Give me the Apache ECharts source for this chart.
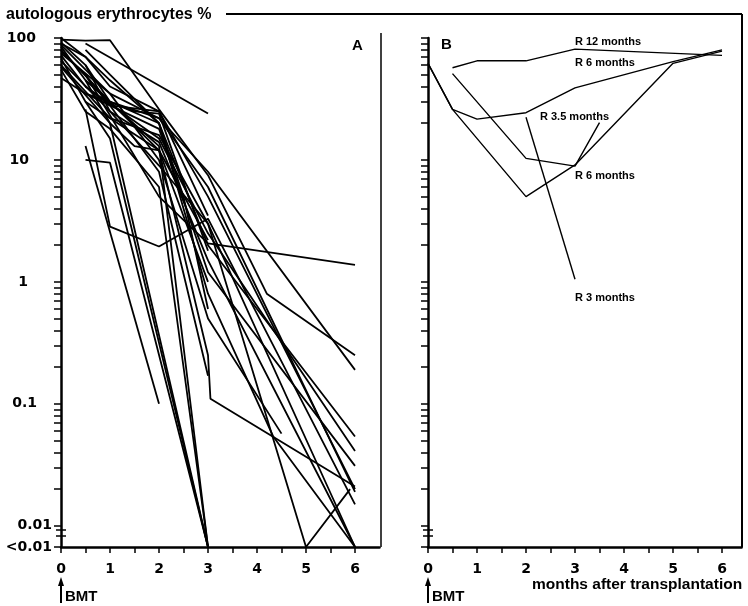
<!DOCTYPE html>
<html>
<head>
<meta charset="utf-8">
<script src="https://cdn.jsdelivr.net/npm/echarts@6/dist/echarts.min.js"></script>
<style>html,body{margin:0;padding:0;background:#fff}#main{width:748px;height:606px}</style>
</head>
<body>
<div id="main"></div>
<script>
// value used for "<0.01" (bottom of the y axis)
var LT = 0.0067;

// panel A: individual patients, [month, % autologous erythrocytes]
var a1 = [[0,97],[0.5,95],[1,96],[2,26],[3,7.5],[4.2,0.8],[6,0.25]];
var a2 = [[0.5,90],[3,24]];
var a3 = [[0,88],[0.5,55],[1,35],[2,22],[3,8],[6,0.19]];
var a4 = [[0,80],[1,30],[2,12],[3,0.25],[3.05,0.11],[6,0.021]];
var a5 = [[0,72],[0.5,40],[2,15],[3,2.5],[6,0.041]];
var a6 = [[0,65],[1,25],[2,9],[3,3],[5,LT],[5.9,0.02]];
var a7 = [[0,58],[1,20],[3,LT]];
var a8 = [[0,47],[0.5,35],[2,18],[3,1.2],[6,0.031]];
var a9 = [[0.5,13],[2,0.1]];
var a10 = [[0.5,10],[1,9.5],[3,LT]];
var a11 = [[0.5,30],[1,15],[3,LT]];
var a12 = [[0.5,26],[1,2.84],[2,1.95],[3,3.3],[6,0.015]];
var a13 = [[0.5,50],[2,5],[3,2.07],[6,1.38]];
var a14 = [[0,90],[0.5,70],[1,40],[2,25],[3,5],[6,0.02]];
var a15 = [[0.5,80],[1,50],[2,20],[3,0.8],[4.33,0.054],[6,LT]];
var a16 = [[0,75],[1,35],[2,10],[3,0.5],[4.5,0.057]];
var a17 = [[0.5,60],[1,25],[2,14],[3,1.5],[6,LT]];
var a18 = [[0,85],[0.5,45],[2,13],[3,LT]];
var a19 = [[1,30],[2,20],[3,2],[6,0.054]];
var a20 = [[0.5,35],[2,22],[3,6],[6,0.019]];
var a21 = [[0,60],[1,22],[2,16],[3,3],[6,LT]];
var a22 = [[0.5,40],[1,28],[2,8],[3,0.17]];
var a23 = [[0,100],[0.5,70],[1,45],[2,20],[2.5,5],[3,0.6]];
var a24 = [[0,92],[0.5,60],[1,30],[1.5,25],[2,24],[3,1.8]];
var a25 = [[0,68],[0.5,30],[1,22],[2,12],[3,2.2]];
var a26 = [[0.5,45],[1,20],[1.5,13],[2,12],[3,1]];
var a27 = [[0,55],[0.5,25],[1,18],[2,6],[3,LT]];
var a28 = [[0,78],[0.5,50],[1,28],[2,25],[3,3.5]];
var linesA = [a1,a2,a3,a4,a5,a6,a7,a8,a9,a10,a11,a12,a13,a14,
  a15,a16,a17,a18,a19,a20,a21,a22,a23,a24,a25,a26,a27,a28];

// panel B: relapsing patients
var r12 = [[0.5,57],[1,65],[2,65],[3,81],[6,72]];
var r6a = [[0,62],[0.5,26],[1,21.6],[2,24.4],[3,39],[5,64],[6,80]];
var r6b = [[0,62],[0.5,26],[2,5.0],[3,9.1],[5,62],[6,78]];
var r35 = [[0.5,51],[2,10.3],[3,8.9],[3.5,20.2]];
var r3 = [[2,22.4],[3,1.05]];
var linesB = [r12,r6a,r6b,r35,r3];

// axis ticks / labels
var xTicks = [0,0.5,1,1.5,2,2.5,3,3.5,4,4.5,5,5.5,6];
var xLabels = [0,1,2,3,4,5,6];
var yLabels = [LT,0.01,0.1,1,10,100];
var yTicks = [LT];
[0.01,0.1,1,10].forEach(function(d){
  for (var k=1;k<10;k++) yTicks.push(+(k*d).toPrecision(3));
});
yTicks.push(100);

var myChart = echarts.init(document.getElementById('main'));

function yLabelFmt(v){
  if (v < 0.009) return '{p0|<0.01}';
  if (v < 0.05) return '{p0|0.01}';
  if (v < 0.5) return '{p15|0.1}';
  if (v < 5) return '{p24|1}';
  if (v < 50) return '{p23|10}';
  return '{p16|100}';
}
var lblFont = {fontFamily:'DejaVu Sans', fontWeight:'bold', fontSize:14, color:'#000'};

function yAx(gi, showLabels){
  return {
    type:'log', logBase:10, gridIndex:gi, min:LT, max:100,
    axisLine:{show:true, lineStyle:{color:'#000', width:2.5}},
    axisTick:{show:true, inside:false, length:7, customValues:yTicks, lineStyle:{color:'#000', width:1.5}},
    axisLabel:{show:showLabels, customValues:yLabels, margin:9, formatter:yLabelFmt,
      rich:{
        p0:Object.assign({padding:[0,0,0,0]}, lblFont),
        p15:Object.assign({padding:[0,15,0,0]}, lblFont),
        p16:Object.assign({padding:[0,16,0,0]}, lblFont),
        p23:Object.assign({padding:[0,23,0,0]}, lblFont),
        p24:Object.assign({padding:[0,24,0,0]}, lblFont)
      }},
    splitLine:{show:false}
  };
}
function xAx(gi, max){
  return {
    type:'value', gridIndex:gi, min:0, max:max, interval:0.5,
    axisLine:{onZero:false, lineStyle:{color:'#000', width:2.5}},
    axisTick:{length:6, customValues:xTicks, lineStyle:{color:'#000', width:1.5}},
    axisLabel:Object.assign({customValues:xLabels, margin:15}, lblFont),
    splitLine:{show:false}
  };
}

var series = [];
linesA.forEach(function(d){
  series.push({type:'line', xAxisIndex:0, yAxisIndex:0, data:d, symbol:'none', silent:true,
    lineStyle:{color:'#000', width:1.8}});
});
linesB.forEach(function(d){
  series.push({type:'line', xAxisIndex:1, yAxisIndex:1, data:d, symbol:'none', silent:true,
    lineStyle:{color:'#000', width:1.4}});
});

function arrowBMT(x){
  return [
    {type:'line', shape:{x1:x, y1:584, x2:x, y2:603}, style:{stroke:'#000', lineWidth:2}},
    {type:'polygon', shape:{points:[[x-3,586],[x,577],[x+3,586]]}, style:{fill:'#000'}},
    {type:'text', style:{x:x+4, y:597, text:'BMT', fill:'#000', font:'bold 15px "Liberation Sans"', textVerticalAlign:'middle'}}
  ];
}
function axisBreak(x){
  return [
    {type:'rect', shape:{x:x-2, y:530, width:4, height:6}, style:{fill:'#fff'}},
    {type:'line', shape:{x1:x-5, y1:530, x2:x+5, y2:530}, style:{stroke:'#000', lineWidth:1.5}},
    {type:'line', shape:{x1:x-5, y1:536, x2:x+5, y2:536}, style:{stroke:'#000', lineWidth:1.5}}
  ];
}
function lbl(x, y, t){
  return {type:'text', z:10, style:{x:x, y:y, text:t, fill:'#000', font:'bold 11px "Liberation Sans"', textVerticalAlign:'middle'}};
}

var graphics = [
  {type:'text', style:{x:6, y:15, text:'autologous erythrocytes %', fill:'#000', font:'bold 16px "Liberation Sans"', textVerticalAlign:'middle'}},
  {type:'line', shape:{x1:226, y1:14, x2:742, y2:14}, style:{stroke:'#000', lineWidth:2}},
  {type:'line', shape:{x1:381, y1:33, x2:381, y2:547}, style:{stroke:'#000', lineWidth:1.5}},
  {type:'line', shape:{x1:742, y1:14, x2:742, y2:547}, style:{stroke:'#000', lineWidth:2}},
  {type:'text', style:{x:352, y:46, text:'A', fill:'#000', font:'bold 15px "Liberation Sans"', textVerticalAlign:'middle'}},
  {type:'text', style:{x:441, y:45, text:'B', fill:'#000', font:'bold 15px "Liberation Sans"', textVerticalAlign:'middle'}},
  {type:'text', style:{x:532, y:585, text:'months after transplantation', fill:'#000', font:'bold 15.5px "Liberation Sans"', textVerticalAlign:'middle'}},
  lbl(575, 42, 'R 12 months'),
  lbl(575, 63, 'R 6 months'),
  lbl(540, 117, 'R 3.5 months'),
  lbl(575, 176, 'R 6 months'),
  lbl(575, 298, 'R 3 months')
].concat(arrowBMT(61), arrowBMT(428), axisBreak(61), axisBreak(428));

var option = {
  backgroundColor:'#fff',
  animation:false,
  grid:[
    {left:61, top:38, width:318.5, height:509},
    {left:428, top:38, width:313.6, height:509}
  ],
  xAxis:[xAx(0, 6.5), xAx(1, 6.4)],
  yAxis:[yAx(0, true), yAx(1, false)],
  series:series,
  graphic:graphics
};
myChart.setOption(option);
</script>
</body>
</html>
